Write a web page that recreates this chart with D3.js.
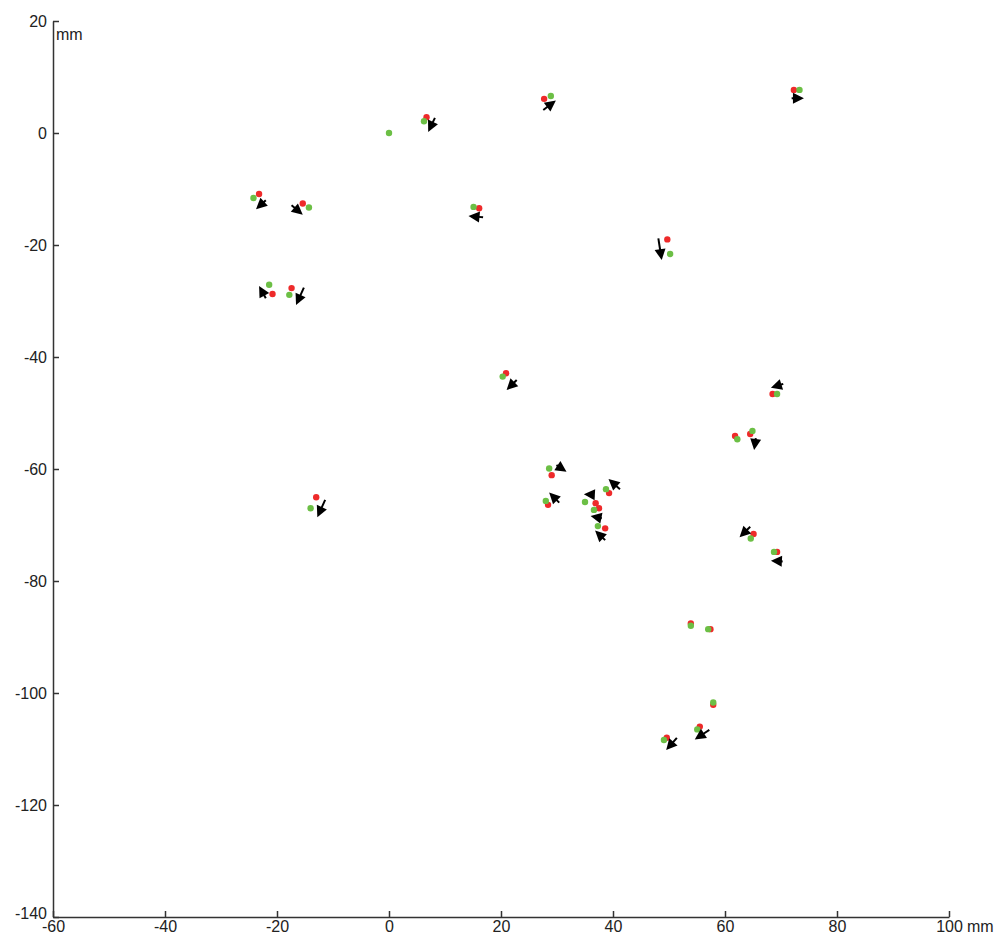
<!DOCTYPE html>
<meta charset="utf-8">
<style>
    body { margin: 0; background: #fff; }
    .axis text { font-family: "Liberation Sans", Arial, sans-serif; font-size: 16px; fill: #222; }
    .axis path, .axis line { stroke: #333; stroke-width: 1.5; }
</style>
<svg width="1002" height="937"></svg>

<script src="https://d3js.org/d3.v7.min.js"></script>
<script>
    // axis ticks (mm)
    var xTicks = [-60, -40, -20, 0, 20, 40, 60, 80, 100];
    var yTicks = [20, 0, -20, -40, -60, -80, -100, -120, -140];

    // red markers [x, y] in mm
    var redPts = [
        [6.7, 2.8], [27.7, 6.1], [72.3, 7.7], [-23.2, -10.9], [-15.4, -12.6],
        [-20.8, -28.75], [-17.4, -27.7], [16.1, -13.45], [49.7, -19.0], [20.9, -42.9],
        [68.5, -46.6], [61.8, -54.1], [64.5, -53.75], [65.1, -71.6], [69.3, -74.8],
        [29.05, -61.1], [28.4, -66.4], [36.9, -66.1], [37.5, -67.0], [38.6, -70.6],
        [39.3, -64.3], [-13.0, -65.05], [53.9, -87.6], [57.4, -88.6], [57.9, -102.1],
        [55.5, -106.0], [49.6, -108.0]
    ];

    // green markers [x, y] in mm
    var greenPts = [
        [0, 0], [6.25, 2.1], [28.9, 6.6], [73.3, 7.7], [-24.2, -11.6], [-14.3, -13.3],
        [-21.4, -27.1], [-17.8, -28.9], [15.1, -13.2], [50.2, -21.6], [20.3, -43.5],
        [69.3, -46.6], [62.2, -54.7], [64.9, -53.2], [64.6, -72.4], [68.75, -74.8],
        [28.6, -59.9], [28.0, -65.7], [35.0, -65.9], [36.6, -67.3], [37.3, -70.2],
        [38.75, -63.6], [-14.0, -67.0], [53.9, -88.0], [57.0, -88.6], [57.9, -101.7],
        [55.05, -106.5], [49.1, -108.4]
    ];

    // arrows [tailX, tailY, tipX, tipY] in mm
    var arrows = [
        [8.2, 2.7, 7.0, 0.2], [27.55, 4.1, 29.8, 5.8], [71.9, 6.2, 74.1, 6.2],
        [-22.0, -12.0, -23.75, -13.6], [-17.4, -12.9, -15.4, -14.6],
        [-22.0, -29.5, -23.2, -27.3], [-15.2, -27.6, -16.6, -30.7],
        [16.8, -15.06, 14.2, -14.8], [48.1, -18.8, 48.7, -22.7],
        [22.8, -44.1, 21.0, -45.9], [70.4, -44.8, 68.2, -45.5],
        [65.5, -54.5, 65.2, -56.6], [64.5, -70.3, 62.6, -72.2],
        [70.3, -76.5, 68.2, -76.4], [29.9, -59.3, 31.7, -60.5],
        [30.4, -66.0, 28.6, -64.2], [36.6, -64.6, 34.8, -64.5],
        [38.0, -68.8, 36.0, -68.4], [38.6, -72.7, 36.8, -71.0],
        [41.25, -63.6, 39.2, -61.8], [-11.4, -65.5, -12.8, -68.6],
        [57.2, -106.6, 54.6, -108.3], [51.4, -108.0, 49.5, -110.2]
    ];

    var svg = d3.select("svg");

    var x = d3.scaleLinear().domain([-60, 100]).range([53, 949]);
    var y = d3.scaleLinear().domain([-140, 20]).range([917, 21]);

    svg.append("g")
        .attr("class", "axis")
        .attr("transform", "translate(0," + y(-140) + ")")
        .call(d3.axisBottom(x).tickValues(xTicks).tickSize(-6).tickSizeOuter(0).tickPadding(4)
            .tickFormat(function (d) { return String(d); }));

    var yAxis = svg.append("g")
        .attr("class", "axis")
        .attr("transform", "translate(" + x(-60) + ",0)")
        .call(d3.axisLeft(y).tickValues(yTicks).tickSize(-6).tickSizeOuter(0).tickPadding(6)
            .tickFormat(function (d) { return String(d); }));

    // lift the bottom-most y label a little so it clears the -60 label
    yAxis.selectAll(".tick text")
        .filter(function (d) { return d === -140; })
        .attr("y", -4);

    // unit labels
    svg.append("text")
        .attr("x", x(-60) + 3)
        .attr("y", y(20) + 19)
        .attr("font-family", "Liberation Sans, Arial, sans-serif")
        .attr("font-size", 16)
        .attr("fill", "#222")
        .text("mm");

    svg.append("text")
        .attr("x", x(100) + 18)
        .attr("y", y(-140) + 4)
        .attr("dy", "0.71em")
        .attr("font-family", "Liberation Sans, Arial, sans-serif")
        .attr("font-size", 16)
        .attr("fill", "#222")
        .text("mm");

    svg.append("g").selectAll("circle")
        .data(redPts)
        .enter().append("circle")
        .attr("cx", function (d) { return x(d[0]); })
        .attr("cy", function (d) { return y(d[1]); })
        .attr("r", 3.2)
        .attr("fill", "#ee2a2a");

    svg.append("g").selectAll("circle")
        .data(greenPts)
        .enter().append("circle")
        .attr("cx", function (d) { return x(d[0]); })
        .attr("cy", function (d) { return y(d[1]); })
        .attr("r", 3.2)
        .attr("fill", "#6cbf45");

    var headLen = 11, headW = 5.5;
    var ag = svg.append("g").selectAll("g")
        .data(arrows)
        .enter().append("g");

    ag.each(function (d) {
        var x0 = x(d[0]), y0 = y(d[1]), x1 = x(d[2]), y1 = y(d[3]);
        var dx = x1 - x0, dy = y1 - y0, len = Math.sqrt(dx * dx + dy * dy);
        var ux = dx / len, uy = dy / len;
        var bx = x1 - ux * headLen, by = y1 - uy * headLen;
        var g = d3.select(this);
        if (len > headLen) {
            g.append("line")
                .attr("x1", x0).attr("y1", y0)
                .attr("x2", bx + ux).attr("y2", by + uy)
                .attr("stroke", "#000")
                .attr("stroke-width", 2);
        }
        g.append("path")
            .attr("d", "M" + x1 + "," + y1 +
                "L" + (bx - uy * headW) + "," + (by + ux * headW) +
                "L" + (bx + uy * headW) + "," + (by - ux * headW) + "Z")
            .attr("fill", "#000");
    });
</script>
